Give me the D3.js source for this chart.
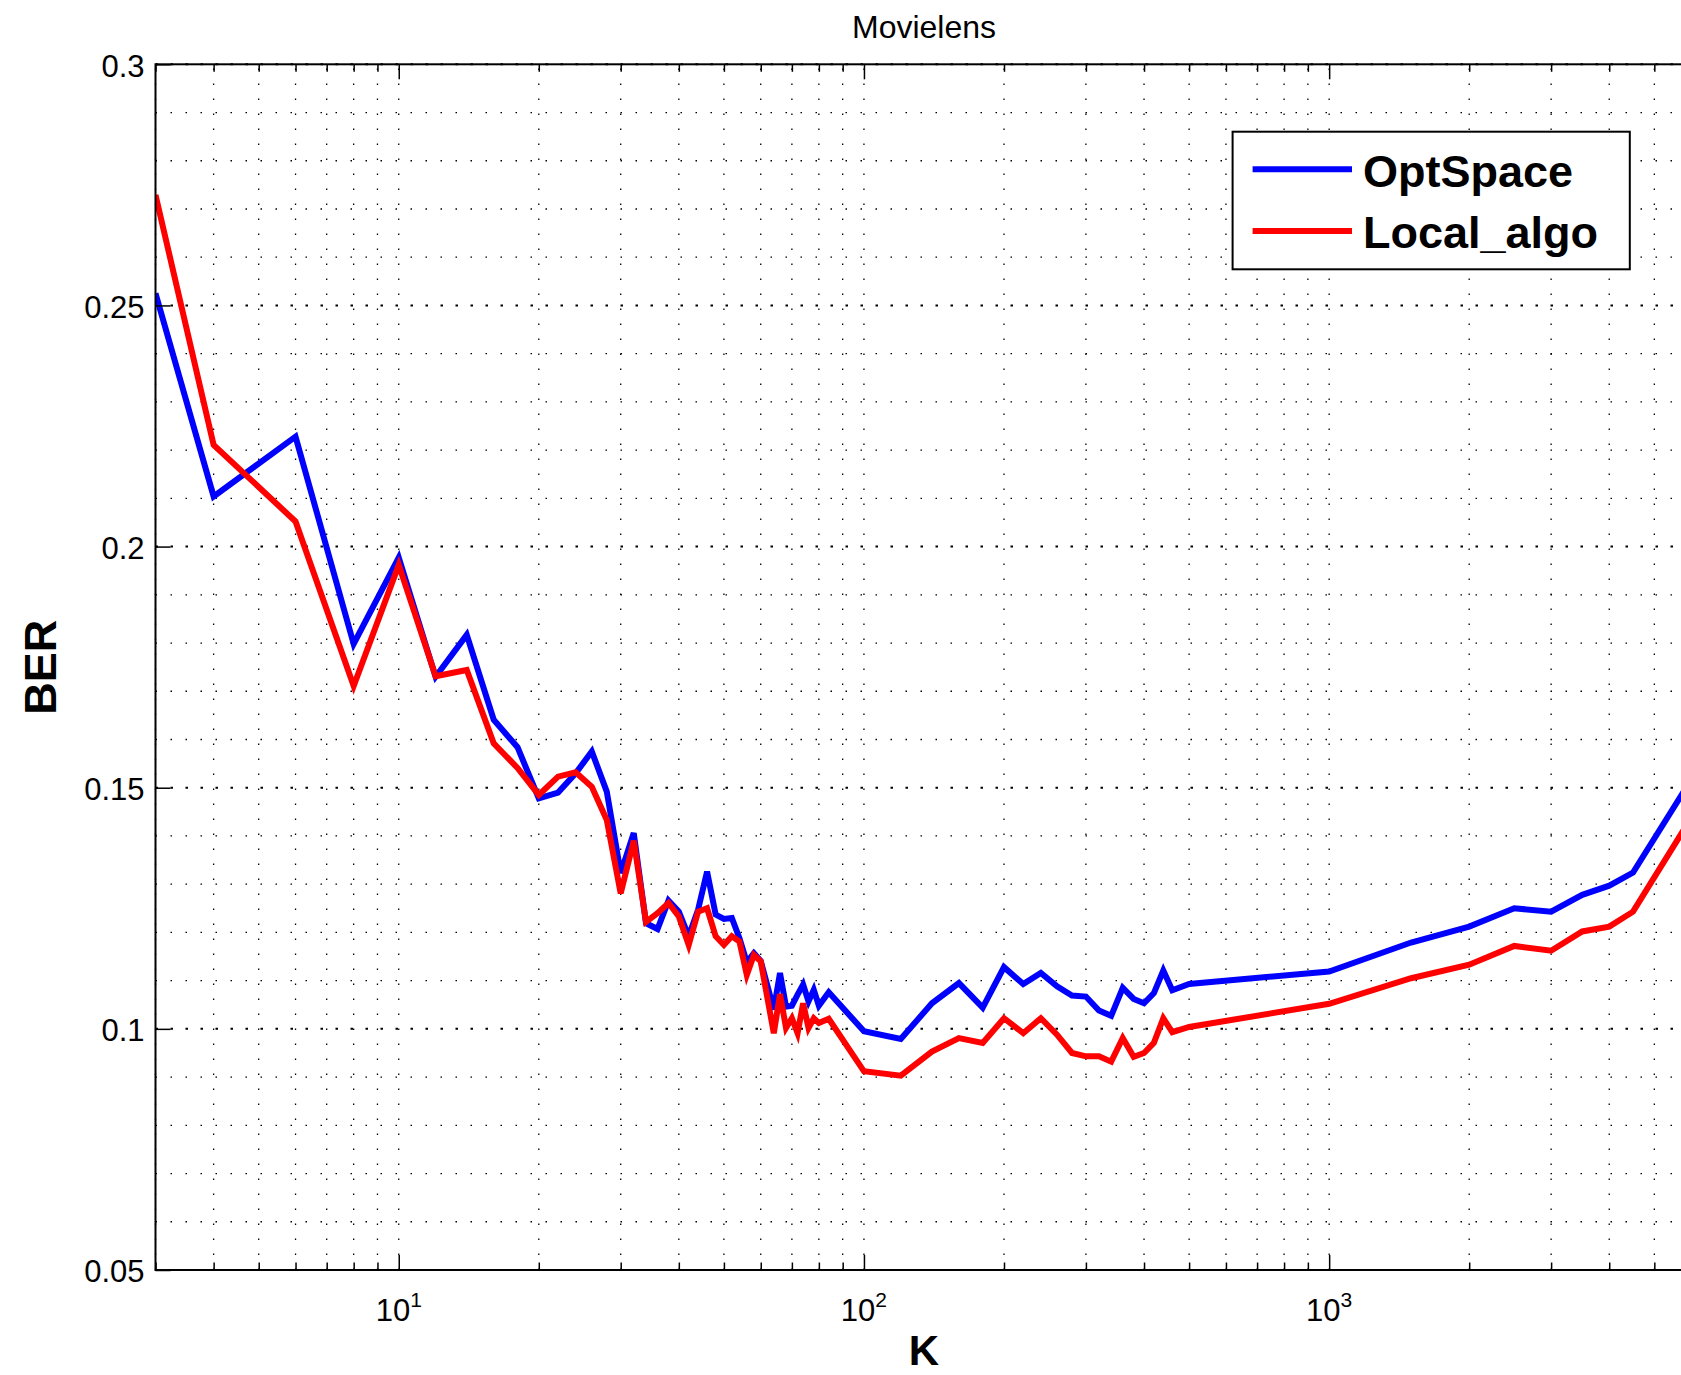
<!DOCTYPE html>
<html>
<head>
<meta charset="utf-8">
<script src="https://cdn.jsdelivr.net/npm/d3@7"></script>
<style>
  body { margin: 0; background: #fff; }
  svg { display: block; font-family: "Liberation Sans", Arial, Helvetica, sans-serif; }
</style>
</head>
<body>
<div id="chart"></div>
<script>
// values
const kValues = [3, 4, 6, 8, 10, 12, 14, 16, 18, 20, 22, 24, 26, 28, 30, 32, 34, 36, 38, 40,
  42, 44, 46, 48, 50, 52, 54, 56, 58, 60, 64, 66, 68, 70, 72, 74, 76, 78, 80, 84,
  100, 120, 140, 160, 180, 200, 220, 240, 260, 280, 300, 320, 340, 360, 380, 400, 420, 440, 460, 500,
  1000, 1500, 2000, 2500, 3000, 3500, 4000, 4500, 6040];
const optSpace = [0.2525, 0.2104, 0.2228, 0.1798, 0.1977, 0.1730, 0.1817, 0.1641, 0.1584, 0.1478,
  0.1490, 0.1530, 0.1575, 0.1492, 0.1323, 0.1406, 0.1219, 0.1207, 0.1266, 0.1243,
  0.1192, 0.1247, 0.1326, 0.1237, 0.1228, 0.1230, 0.1188, 0.1138, 0.1157, 0.1141,
  0.1040, 0.1116, 0.1046, 0.1048, 0.1071, 0.1092, 0.1057, 0.1081, 0.1048, 0.1076,
  0.0995, 0.0979, 0.1053, 0.1095, 0.1044, 0.1128, 0.1093, 0.1116, 0.1088, 0.1069,
  0.1067, 0.1038, 0.1027, 0.1085, 0.1062, 0.1053, 0.1074, 0.1121, 0.1080, 0.1093,
  0.1119, 0.1179, 0.1212, 0.1250, 0.1243, 0.1278, 0.1297, 0.1324, 0.1521];
const localAlgo = [0.2729, 0.2211, 0.2052, 0.1711, 0.1962, 0.1731, 0.1744, 0.1592, 0.1541, 0.1485,
  0.1523, 0.1532, 0.1502, 0.1433, 0.1281, 0.1390, 0.1222, 0.1240, 0.1261, 0.1233,
  0.1174, 0.1243, 0.1250, 0.1192, 0.1174, 0.1192, 0.1181, 0.1112, 0.1153, 0.1140,
  0.0991, 0.1072, 0.1002, 0.1022, 0.0991, 0.1053, 0.1002, 0.1022, 0.1012, 0.1021,
  0.0912, 0.0903, 0.0953, 0.0981, 0.0971, 0.1022, 0.0991, 0.1022, 0.0988, 0.0950,
  0.0943, 0.0943, 0.0932, 0.0981, 0.0942, 0.0950, 0.0971, 0.1022, 0.0993, 0.1004,
  0.1052, 0.1105, 0.1133, 0.1172, 0.1162, 0.1202, 0.1212, 0.1243, 0.1442];
const seriesNames = ["OptSpace", "Local_algo"];
const seriesColors = ["#0000ff", "#ff0000"];
const yTicks = [0.05, 0.1, 0.15, 0.2, 0.25, 0.3];
const xMajorTicks = [10, 100, 1000];
const chartTitle = "Movielens";
const xTitle = "K";
const yTitle = "BER";

const width = 1681;
const height = 1375;
const plot = {left: 155.5, right: 1692.5, top: 64.3, bottom: 1270};

const svg = d3.select("#chart").append("svg")
    .attr("width", width)
    .attr("height", height)
    .style("overflow", "hidden");

svg.append("rect")
    .attr("width", width)
    .attr("height", height)
    .attr("fill", "#fff");

const x = d3.scaleLog().domain([3, 6040]).range([plot.left, plot.right]);
const y = d3.scaleLinear().domain([0.05, 0.3]).range([plot.bottom, plot.top]);

const isMajorY = d => yTicks.some(t => Math.abs(t - d) < 1e-6);

// dotted grid (minor + major)
const grid = svg.append("g").attr("stroke", "#000").attr("fill", "none");

grid.selectAll(".vgrid")
    .data(x.ticks())
    .join("line")
    .attr("class", "vgrid")
    .attr("x1", d => x(d)).attr("x2", d => x(d))
    .attr("y1", plot.bottom).attr("y2", plot.top)
    .attr("stroke-width", 1.3)
    .attr("stroke-dasharray", "1.5,13.5");

grid.selectAll(".hgrid")
    .data(y.ticks(25).filter(d => !isMajorY(d)))
    .join("line")
    .attr("class", "hgrid")
    .attr("x1", plot.left).attr("x2", plot.right)
    .attr("y1", d => y(d)).attr("y2", d => y(d))
    .attr("stroke-width", 1.3)
    .attr("stroke-dasharray", "1.5,13.5");

grid.selectAll(".hmajor")
    .data(yTicks)
    .join("line")
    .attr("class", "hmajor")
    .attr("x1", plot.left).attr("x2", plot.right)
    .attr("y1", d => y(d)).attr("y2", d => y(d))
    .attr("stroke-width", 2)
    .attr("stroke-dasharray", "2.5,12.5");

// data lines
svg.append("clipPath").attr("id", "plotclip")
    .append("rect")
    .attr("x", plot.left).attr("y", plot.top)
    .attr("width", plot.right - plot.left).attr("height", plot.bottom - plot.top);

const line = d3.line()
    .x(d => x(d[0]))
    .y(d => y(d[1]));

const series = [optSpace, localAlgo];
svg.append("g")
    .attr("clip-path", "url(#plotclip)")
    .selectAll("path")
    .data(series)
    .join("path")
    .attr("fill", "none")
    .attr("stroke", (d, i) => seriesColors[i])
    .attr("stroke-width", 6)
    .attr("stroke-linejoin", "miter")
    .attr("stroke-miterlimit", 4)
    .attr("d", d => line(d3.zip(kValues, d)));

// axes: ticks only, pointing inward
const minorX = x.ticks().filter(d => !xMajorTicks.includes(d));

function styleAxis(g) {
    g.select(".domain").remove();
    g.selectAll(".tick line").attr("stroke", "#000").attr("stroke-width", 1.5);
}

svg.append("g")
    .attr("transform", `translate(0,${plot.bottom})`)
    .call(d3.axisBottom(x).tickValues(minorX).tickSize(-7.5).tickFormat(""))
    .call(styleAxis);
svg.append("g")
    .attr("transform", `translate(0,${plot.bottom})`)
    .call(d3.axisBottom(x).tickValues(xMajorTicks).tickSize(-15).tickFormat(""))
    .call(styleAxis);
svg.append("g")
    .attr("transform", `translate(0,${plot.top})`)
    .call(d3.axisTop(x).tickValues(minorX).tickSize(-7.5).tickFormat(""))
    .call(styleAxis);
svg.append("g")
    .attr("transform", `translate(0,${plot.top})`)
    .call(d3.axisTop(x).tickValues(xMajorTicks).tickSize(-15).tickFormat(""))
    .call(styleAxis);

const yAxis = svg.append("g")
    .attr("transform", `translate(${plot.left},0)`)
    .call(d3.axisLeft(y).tickValues(yTicks).tickSize(-15).tickPadding(11).tickFormat(d => String(d)))
    .call(styleAxis);
yAxis.selectAll(".tick text")
    .attr("font-family", null)
    .attr("font-size", 31)
    .attr("fill", "#000")
    .attr("dy", "0.38em");

// axes box
svg.append("rect")
    .attr("x", plot.left).attr("y", plot.top)
    .attr("width", plot.right - plot.left).attr("height", plot.bottom - plot.top)
    .attr("fill", "none")
    .attr("stroke", "#000")
    .attr("stroke-width", 2);

// x tick labels as 10^n
const xLabels = svg.append("g").selectAll("text")
    .data(xMajorTicks)
    .join("text")
    .attr("x", d => x(d))
    .attr("y", 1320.7)
    .attr("text-anchor", "middle")
    .attr("font-size", 31)
    .attr("fill", "#000");
xLabels.append("tspan").text("10");
xLabels.append("tspan")
    .attr("dy", -13.7)
    .attr("font-size", 21)
    .text(d => Math.round(Math.log10(d)));

// titles
svg.append("text")
    .attr("x", (plot.left + plot.right) / 2)
    .attr("y", 37.8)
    .attr("text-anchor", "middle")
    .attr("font-size", 32)
    .text(chartTitle);

svg.append("text")
    .attr("x", (plot.left + plot.right) / 2)
    .attr("y", 1365)
    .attr("text-anchor", "middle")
    .attr("font-size", 42)
    .attr("font-weight", "bold")
    .text(xTitle);

svg.append("text")
    .attr("transform", `translate(56,${(plot.top + plot.bottom) / 2}) rotate(-90)`)
    .attr("text-anchor", "middle")
    .attr("font-size", 45)
    .attr("font-weight", "bold")
    .text(yTitle);

// legend
const legend = svg.append("g").attr("transform", "translate(1232.6,131.7)");
legend.append("rect")
    .attr("width", 397.2)
    .attr("height", 137.6)
    .attr("fill", "#fff")
    .attr("stroke", "#000")
    .attr("stroke-width", 2);

const items = legend.selectAll(".item")
    .data(seriesNames)
    .join("g")
    .attr("class", "item")
    .attr("transform", (d, i) => `translate(0,${37.6 + i * 61.7})`);
items.append("line")
    .attr("x1", 20).attr("x2", 119.4)
    .attr("stroke", (d, i) => seriesColors[i])
    .attr("stroke-width", 6);
items.append("text")
    .attr("x", 130.4)
    .attr("y", 17.4)
    .attr("font-size", 45)
    .attr("font-weight", "bold")
    .text(d => d);
</script>
</body>
</html>
